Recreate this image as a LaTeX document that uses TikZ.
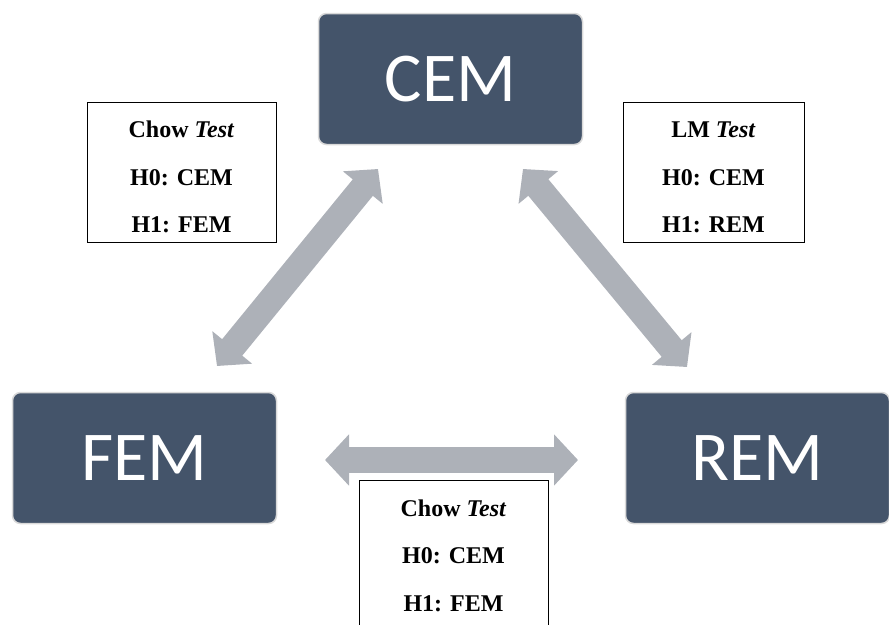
\documentclass[tikz,border=0pt]{standalone}
\usepackage{fontspec}
\setmainfont{Liberation Serif}
\newfontfamily\calfont{Carlito}
\usetikzlibrary{arrows.meta}
\definecolor{boxfill}{HTML}{44546A}
\definecolor{boxedge}{HTML}{D9D9D9}
\definecolor{arrowgray}{HTML}{ADB1B8}
\tikzset{
  model/.style={draw=boxedge, line width=1.5pt, fill=boxfill, rounded corners=8pt,
    minimum width=264pt, minimum height=131pt, inner sep=0pt, text=white,
    font=\calfont\fontsize{70}{70}\selectfont},
  testbox/.style={draw=black, line width=0.8pt, fill=white, inner sep=0pt},
  testline/.style={anchor=base, inner sep=0pt, font=\bfseries\fontsize{24}{24}\selectfont},
  bigarrow/.style={draw=arrowgray, line width=26pt,
    {Triangle[width=50pt,length=24pt]}-{Triangle[width=50pt,length=24pt]}}
}
\begin{document}
\begin{tikzpicture}[x=1pt,y=-1pt]
\useasboundingbox (0,0) rectangle (889,624);
% model boxes
\node[model] (cem) at (450.5,79) {CEM};
\node[model] (fem) at (144.5,458) {FEM};
\node[model] (rem) at (757.5,458) {REM};
% arrow end points
\coordinate (a1) at (217,366);
\coordinate (a2) at (378,169);
\coordinate (b1) at (523,169);
\coordinate (b2) at (687,367);
\coordinate (c1) at (325,460);
\coordinate (c2) at (578,460);
\draw[bigarrow] (a1) -- (a2);
\draw[bigarrow] (b1) -- (b2);
\draw[bigarrow] (c1) -- (c2);
% test boxes
\node[testbox, minimum width=189pt, minimum height=140pt] (tl) at (181.5,172) {};
\node[testline] (tl1) at (181.5,137) {Chow \textit{Test}};
\node[testline] (tl2) at (181.5,185) {H0: CEM};
\node[testline] (tl3) at (181.5,232) {H1: FEM};
\node[testbox, minimum width=181pt, minimum height=140pt] (tr) at (713.5,172) {};
\node[testline] (tr1) at (713.5,137) {LM \textit{Test}};
\node[testline] (tr2) at (713.5,185) {H0: CEM};
\node[testline] (tr3) at (713.5,232) {H1: REM};
\node[testbox, minimum width=189pt, minimum height=160pt] (tb) at (453.5,560) {};
\node[testline] (tb1) at (453.5,516) {Chow \textit{Test}};
\node[testline] (tb2) at (453.5,563) {H0: CEM};
\node[testline] (tb3) at (453.5,611) {H1: FEM};
\end{tikzpicture}
\end{document}
